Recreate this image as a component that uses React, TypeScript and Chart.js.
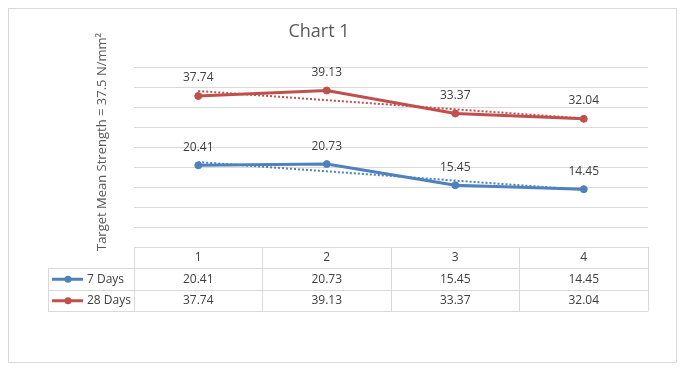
import React, { useEffect, useRef } from "react";
import { Chart, registerables } from "chart.js";

Chart.register(...registerables);

// ---- data ----
const categories = ["1", "2", "3", "4"];
const seriesNames = ["7 Days", "28 Days"];
const days7 = [20.41, 20.73, 15.45, 14.45];
const days28 = [37.74, 39.13, 33.37, 32.04];
const seriesColors = ["#4F81BD", "#C0504D"];
const yMin = 0;
const yMax = 45;
const yStep = 5;
const chartTitle = "Chart 1";
const yTitle = "Target Mean Strength = 37.5 N/mm²";

const seriesValues = [days7, days28];

// least-squares linear trendline evaluated at each category position (x = 1..n)
function linearTrend(values: number[]): number[] {
  const n = values.length;
  const xs = values.map((_, i) => i + 1);
  const mx = xs.reduce((a, b) => a + b, 0) / n;
  const my = values.reduce((a, b) => a + b, 0) / n;
  let sxy = 0;
  let sxx = 0;
  for (let i = 0; i < n; i++) {
    sxy += (xs[i] - mx) * (values[i] - my);
    sxx += (xs[i] - mx) * (xs[i] - mx);
  }
  const b = sxy / sxx;
  const a = my - b * mx;
  return xs.map((x) => a + b * x);
}

const FONT = "'Open Sans', 'DejaVu Sans', sans-serif";
const TEXT = "#404040";
const GRID = "#D9D9D9";

const crisp = (v: number) => Math.floor(v) + 0.5;

const decorPlugin = {
  id: "decor",
  beforeDraw(chart: any) {
    const ctx = chart.ctx;
    ctx.save();
    ctx.fillStyle = "#FFFFFF";
    ctx.fillRect(0, 0, chart.width, chart.height);
    ctx.restore();
  },
  afterDraw(chart: any) {
    const ctx = chart.ctx;
    const xs = chart.scales.x;
    const area = chart.chartArea;
    ctx.save();

    // outer border
    ctx.strokeStyle = GRID;
    ctx.lineWidth = 1;
    ctx.strokeRect(8.5, 8.5, 668, 354);

    // title
    ctx.fillStyle = "#595959";
    ctx.font = `18px ${FONT}`;
    ctx.textAlign = "center";
    ctx.textBaseline = "alphabetic";
    ctx.fillText(chartTitle, 319, 37);

    // y axis title
    ctx.save();
    ctx.translate(106, 142);
    ctx.rotate(-Math.PI / 2);
    ctx.font = `13px ${FONT}`;
    ctx.fillStyle = "#595959";
    ctx.textAlign = "center";
    ctx.textBaseline = "alphabetic";
    ctx.fillText(yTitle, 0, 0);
    ctx.restore();

    // data labels
    ctx.font = `12px ${FONT}`;
    ctx.fillStyle = TEXT;
    ctx.textAlign = "center";
    ctx.textBaseline = "middle";
    seriesValues.forEach((vals, si) => {
      const meta = chart.getDatasetMeta(2 + si);
      meta.data.forEach((pt: any, i: number) => {
        ctx.fillText(vals[i].toFixed(2), pt.x, pt.y - 18);
      });
    });

    // data table
    const rowH = 21.5;
    const top = area.bottom;
    const rows = [top, top + rowH, top + 2 * rowH, top + 3 * rowH];
    const colW = xs.getPixelForValue(1) - xs.getPixelForValue(0);
    const colEdges: number[] = [];
    for (let i = 0; i < categories.length; i++) {
      colEdges.push(xs.getPixelForValue(i) - colW / 2);
    }
    colEdges.push(xs.getPixelForValue(categories.length - 1) + colW / 2);
    const legendLeft = 48;
    const tLeft = colEdges[0];
    const tRight = colEdges[colEdges.length - 1];

    ctx.strokeStyle = GRID;
    ctx.lineWidth = 1;
    ctx.beginPath();
    // horizontal lines
    ctx.moveTo(tLeft, crisp(rows[0]));
    ctx.lineTo(tRight, crisp(rows[0]));
    for (let r = 1; r < rows.length; r++) {
      ctx.moveTo(legendLeft, crisp(rows[r]));
      ctx.lineTo(tRight, crisp(rows[r]));
    }
    // vertical lines
    colEdges.forEach((x) => {
      ctx.moveTo(crisp(x), rows[0]);
      ctx.lineTo(crisp(x), rows[3]);
    });
    ctx.moveTo(crisp(legendLeft), rows[1]);
    ctx.lineTo(crisp(legendLeft), rows[3]);
    ctx.stroke();

    // header text
    ctx.fillStyle = TEXT;
    ctx.font = `12px ${FONT}`;
    ctx.textAlign = "center";
    ctx.textBaseline = "middle";
    categories.forEach((c, i) => {
      ctx.fillText(c, xs.getPixelForValue(i), rows[0] + rowH / 2);
    });
    // value rows
    seriesValues.forEach((vals, si) => {
      const cy = rows[1 + si] + rowH / 2;
      vals.forEach((v, i) => {
        ctx.fillStyle = TEXT;
        ctx.textAlign = "center";
        ctx.fillText(v.toFixed(2), xs.getPixelForValue(i), cy);
      });
      // legend key
      ctx.strokeStyle = seriesColors[si];
      ctx.lineWidth = 3;
      ctx.beginPath();
      ctx.moveTo(52, cy);
      ctx.lineTo(83, cy);
      ctx.stroke();
      ctx.fillStyle = seriesColors[si];
      ctx.beginPath();
      ctx.arc(68, cy, 3.5, 0, Math.PI * 2);
      ctx.fill();
      ctx.fillStyle = TEXT;
      ctx.textAlign = "left";
      ctx.fillText(seriesNames[si], 87, cy);
    });

    ctx.restore();
  },
};

export default function App() {
  const ref = useRef<HTMLCanvasElement | null>(null);

  useEffect(() => {
    if (!ref.current) return;
    const trendDatasets = seriesValues.map((vals, si) => ({
      label: seriesNames[si] + " trend",
      data: linearTrend(vals),
      borderColor: seriesColors[si],
      borderWidth: 2,
      borderDash: [2, 2],
      pointRadius: 0,
      fill: false,
      tension: 0,
      order: 0,
    }));
    const mainDatasets = seriesValues.map((vals, si) => ({
      label: seriesNames[si],
      data: vals,
      borderColor: seriesColors[si],
      backgroundColor: seriesColors[si],
      borderWidth: 3,
      pointRadius: 3.5,
      pointBackgroundColor: seriesColors[si],
      pointBorderColor: seriesColors[si],
      pointBorderWidth: 1,
      fill: false,
      tension: 0,
      order: 1,
    }));
    const chart = new Chart(ref.current, {
      type: "line",
      data: {
        labels: categories,
        datasets: [...trendDatasets, ...mainDatasets] as any,
      },
      options: {
        responsive: false,
        animation: false,
        devicePixelRatio: 1,
        layout: { padding: { left: 134, right: 39, top: 67, bottom: 122 } },
        plugins: {
          legend: { display: false },
          tooltip: { enabled: false },
          title: { display: false },
        },
        scales: {
          x: { display: false, offset: true },
          y: {
            display: true,
            min: yMin,
            max: yMax,
            ticks: { display: false, stepSize: yStep },
            grid: { color: GRID, lineWidth: 1, drawTicks: false },
            border: { display: false },
            afterFit: (s: any) => {
              s.width = 0;
            },
          },
        },
      } as any,
      plugins: [decorPlugin],
    });
    return () => chart.destroy();
  }, []);

  return (
    <div style={{ position: "absolute", left: 0, top: 0, width: 687, height: 369 }}>
      <canvas ref={ref} width={687} height={369} style={{ display: "block" }} />
    </div>
  );
}
